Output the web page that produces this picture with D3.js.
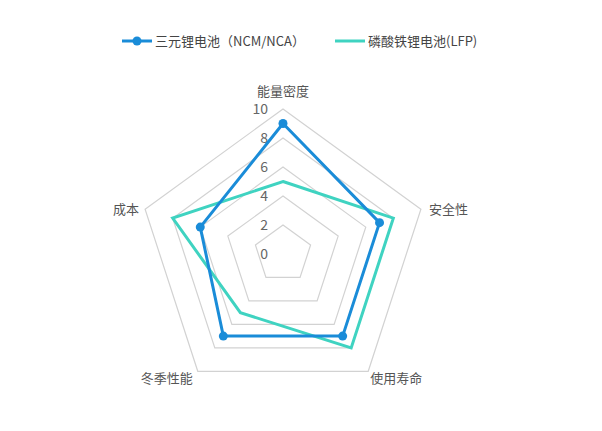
<!DOCTYPE html>
<html>
<head>
<meta charset="utf-8">
<script src="https://cdn.jsdelivr.net/npm/d3@7"></script>
<style>
  body { margin: 0; background: #fff; }
  text { font-family: "Noto Sans CJK SC", "Liberation Sans", sans-serif; }
</style>
</head>
<body>
<div id="graphHolder"></div>
<script>
var axes = ["能量密度", "安全性", "使用寿命", "冬季性能", "成本"];
var ncmValues = [9, 7, 7, 7, 6];
var lfpValues = [5, 8, 8, 5, 8];
var tickValues = [0, 2, 4, 6, 8, 10];
var seriesNames = ["三元锂电池（NCM/NCA）", "磷酸铁锂电池(LFP)"];

var graphWidth = 602, graphHeight = 431;
var cx = 283, cy = 254, R = 145;
var blue = "#1a8cd8", teal = "#3fd3c1";

var svg = d3.select("#graphHolder")
        .append("svg")
        .attr("width", graphWidth)
        .attr("height", graphHeight);

var g = svg.append("g")
        .attr("transform", "translate(" + cx + "," + cy + ")");

var r = d3.scaleLinear().domain([0, 10]).range([0, R]);

function angle(i) {
    return i * 2 * Math.PI / axes.length;
}

var radial = d3.lineRadial()
        .angle(function (d, i) { return angle(i); })
        .radius(function (d) { return r(d); })
        .curve(d3.curveLinearClosed);

// grid rings
tickValues.slice(1).forEach(function (t) {
    g.append("path")
            .datum(axes.map(function () { return t; }))
            .attr("fill", "none")
            .attr("stroke", "#d2d2d2")
            .attr("stroke-width", 1.2)
            .attr("d", radial);
});

// tick labels
g.selectAll(".tick")
        .data(tickValues)
        .enter().append("text")
        .attr("x", -15)
        .attr("y", function (d) { return -r(d); })
        .attr("dy", "0.38em")
        .attr("text-anchor", "end")
        .attr("fill", "#666")
        .style("font-size", "14px")
        .text(function (d) { return d; });

// axis labels
var labelPos = [
    {dx: 0, dy: -18, anchor: "middle"},
    {dx: 8, dy: 0, anchor: "start"},
    {dx: 28, dy: 7, anchor: "middle"},
    {dx: -31, dy: 7, anchor: "middle"},
    {dx: -6, dy: 0, anchor: "end"}
];
g.selectAll(".axisLabel")
        .data(axes)
        .enter().append("text")
        .attr("x", function (d, i) { return Math.sin(angle(i)) * R + labelPos[i].dx; })
        .attr("y", function (d, i) { return -Math.cos(angle(i)) * R + labelPos[i].dy; })
        .attr("dy", "0.35em")
        .attr("text-anchor", function (d, i) { return labelPos[i].anchor; })
        .attr("fill", "#555")
        .style("font-size", "13px")
        .text(function (d) { return d; });

// series
g.append("path")
        .datum(lfpValues)
        .attr("fill", "none")
        .attr("stroke", teal)
        .attr("stroke-width", 3)
        .attr("stroke-linejoin", "miter")
        .attr("d", radial);

g.append("path")
        .datum(ncmValues)
        .attr("fill", "none")
        .attr("stroke", blue)
        .attr("stroke-width", 3)
        .attr("stroke-linejoin", "round")
        .attr("d", radial);

g.selectAll(".dot")
        .data(ncmValues)
        .enter().append("circle")
        .attr("cx", function (d, i) { return Math.sin(angle(i)) * r(d); })
        .attr("cy", function (d, i) { return -Math.cos(angle(i)) * r(d); })
        .attr("r", 4.5)
        .attr("fill", blue);

// legend
var legend = svg.append("g").attr("transform", "translate(0,41)");
var legendItems = [
    {x: 122, color: blue, dot: true, name: seriesNames[0]},
    {x: 335, color: teal, dot: false, name: seriesNames[1]}
];
legendItems.forEach(function (it) {
    legend.append("line")
            .attr("x1", it.x).attr("x2", it.x + 30)
            .attr("y1", 0).attr("y2", 0)
            .attr("stroke", it.color)
            .attr("stroke-width", 3);
    if (it.dot) {
        legend.append("circle")
                .attr("cx", it.x + 15).attr("cy", 0)
                .attr("r", 4.5).attr("fill", it.color);
    }
    legend.append("text")
            .attr("x", it.x + 33)
            .attr("y", 0)
            .attr("dy", "0.35em")
            .attr("fill", "#444")
            .style("font-size", "13px")
            .text(it.name);
});
</script>
</body>
</html>
